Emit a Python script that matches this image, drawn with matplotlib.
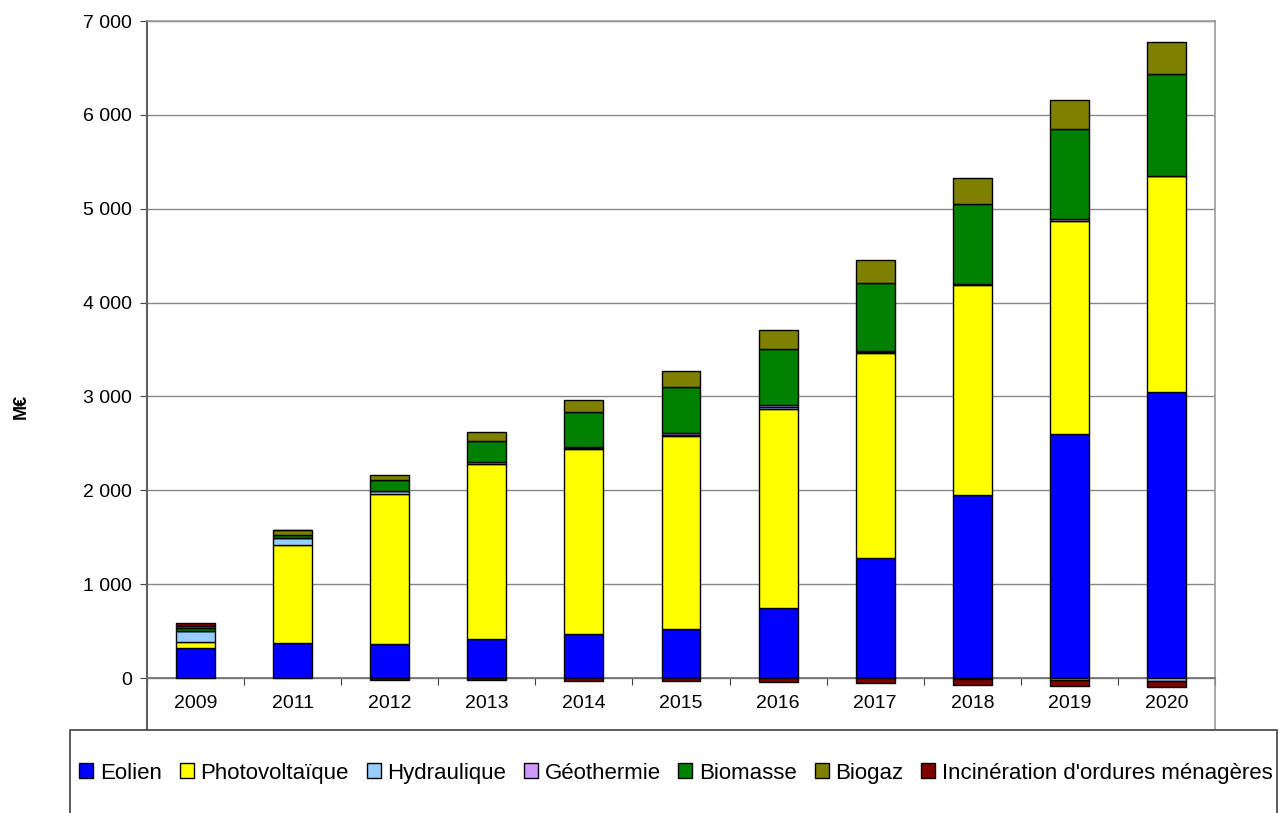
import numpy as np
import matplotlib.pyplot as plt
import matplotlib.patches as mpatches
from matplotlib.ticker import FuncFormatter

plt.rcParams['font.family'] = ['Liberation Sans', 'DejaVu Sans']

# Données (M€)
annees = ['2009', '2011', '2012', '2013', '2014', '2015', '2016', '2017', '2018', '2019', '2020']
eolien = [316, 373, 359, 412, 469, 520, 746, 1278, 1950, 2600, 3047]
photovoltaique = [64, 1044, 1598, 1868, 1967, 2058, 2123, 2181, 2237, 2272, 2305]
hydraulique = [121, 78, 39, 20, 15, 16, 20, 10, -8, -25, -35]
geothermie = [0, 0, 0, 5, 15, 16, 16, 15, 14, 18, 0]
biomasse = [28, 29, 110, 220, 365, 490, 600, 724, 846, 959, 1083]
biogaz = [22, 53, 54, 99, 134, 171, 203, 242, 277, 309, 341]
incineration = [32, 0, -20, -20, -30, -30, -40, -57, -63, -60, -60]

series = [
    ('Eolien', eolien, '#0000FF'),
    ('Photovoltaïque', photovoltaique, '#FFFF00'),
    ('Hydraulique', hydraulique, '#99CCFF'),
    ('Géothermie', geothermie, '#CC99FF'),
    ('Biomasse', biomasse, '#008000'),
    ('Biogaz', biogaz, '#808000'),
    ("Incinération d'ordures ménagères", incineration, '#800000'),
]

fig = plt.figure(figsize=(12.8, 8.13), dpi=100)
ax = fig.add_axes([147 / 1280, 1 - 772 / 813, (1215 - 147) / 1280, (772 - 21) / 813])

x = np.arange(len(annees))
pos = np.zeros(len(annees))
neg = np.zeros(len(annees))
handles = []
for nom, vals, couleur in series:
    v = np.array(vals, dtype=float)
    bas = np.where(v >= 0, pos, neg)
    b = ax.bar(x, v, 0.4, bottom=bas, color=couleur, edgecolor='black', linewidth=1.0, zorder=3, label=nom)
    handles.append(b)
    pos = pos + np.where(v > 0, v, 0)
    neg = neg + np.where(v < 0, v, 0)

ax.set_xlim(-0.5, len(annees) - 0.5)
ax.set_ylim(-1000, 7000)
ax.set_yticks(range(0, 7001, 1000))
ax.yaxis.set_major_formatter(FuncFormatter(lambda v, p: f'{int(v):,}'.replace(',', ' ')))
ax.grid(axis='y', color='#888888', linewidth=1.0, zorder=0)

# axe des catégories à y = 0
ax.spines['bottom'].set_position(('data', 0))
ax.spines['bottom'].set_color('#707070')
ax.spines['bottom'].set_linewidth(1.2)
ax.spines['left'].set_color('#606060')
ax.spines['left'].set_linewidth(1.5)
for s in ['top', 'right']:
    ax.spines[s].set_color('#999999')
    ax.spines[s].set_linewidth(1.2)

ax.set_xticks(np.arange(-0.5, len(annees), 1.0))
ax.set_xticklabels([])
ax.set_xticks(x, minor=True)
ax.set_xticklabels(annees, minor=True)
ax.tick_params(axis='x', which='major', length=5, direction='out', color='#404040')
ax.tick_params(axis='x', which='minor', length=0, pad=12, labelsize=14)
ax.tick_params(axis='y', length=5, direction='out', color='#404040', labelsize=14, pad=6)

fig.text(21 / 1280, 1 - 406 / 813, 'M€', rotation=90, fontsize=13, fontweight='bold',
         ha='center', va='center')

# cadre de la légende
cadre = mpatches.Rectangle((70 / 1280, -0.1), (1277 - 70) / 1280, 0.1 + 83 / 813,
                           transform=fig.transFigure, facecolor='white', edgecolor='#404040',
                           linewidth=1.2, zorder=4)
fig.patches.append(cadre)

leg = fig.legend(handles=handles, loc='center', bbox_to_anchor=(676 / 1280, 1 - 773 / 813),
                 ncol=7, frameon=False, fontsize=16, handlelength=0.63, handleheight=0.63,
                 handletextpad=0.3, columnspacing=0.8, borderaxespad=0)
leg.set_zorder(5)

plt.savefig('out.png', dpi=100)
